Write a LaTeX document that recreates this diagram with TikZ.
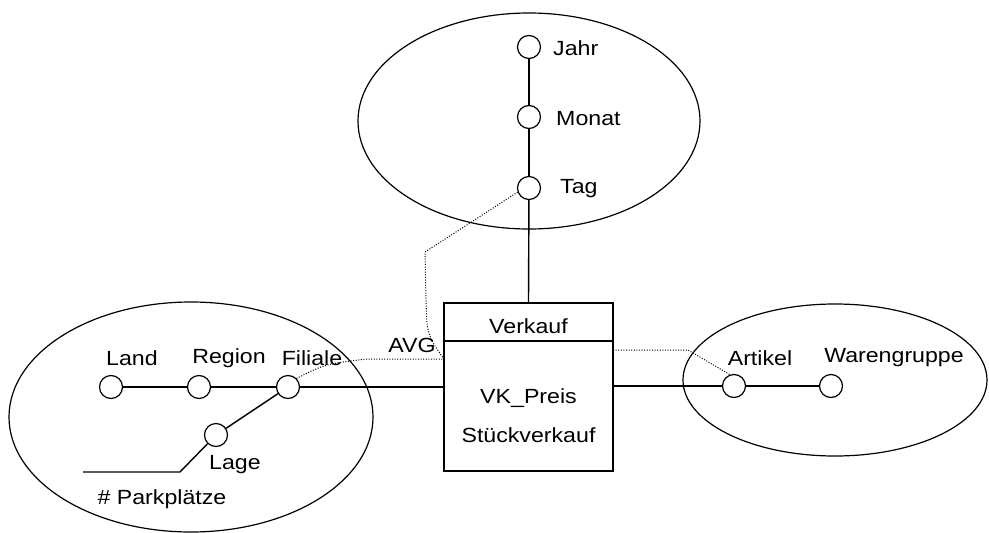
\documentclass[tikz,border=0pt]{standalone}
\usepackage{fontspec}
\setmainfont{Liberation Sans}[FakeStretch=1.13]
\begin{document}
\begin{tikzpicture}[x=1pt,y=-1pt,
  level/.style={circle,draw,line width=1.2pt,minimum size=23pt,inner sep=0pt},
  lbl/.style={inner sep=0pt,font=\fontsize{20.5}{23}\selectfont},
  link/.style={line width=1.4pt},
  agg/.style={line width=1pt,dash pattern=on 1pt off 1.6pt},
  hull/.style={line width=1.2pt}]
\useasboundingbox (0,0) rectangle (989,533);

% dimension hulls
\draw[hull] (529,121) ellipse [x radius=171, y radius=108];
\draw[hull] (191,417) ellipse [x radius=182, y radius=115];
\draw[hull] (835,380) ellipse [x radius=152, y radius=76];

% fact table
\node[draw,line width=1.4pt,minimum width=169pt,minimum height=168pt,inner sep=0pt] (box) at (528.5,387) {};
\coordinate (divL) at (444,341);
\coordinate (divR) at (613,341);
\draw[link] (divL) -- (divR);
\node[lbl] (verkauf) at (528.5,326) {Verkauf};
\node[lbl] (preis) at (528.5,398) {VK\_Preis};
\node[lbl] (stueck) at (528.5,435) {Stückverkauf};

% time dimension
\node[level] (jahr) at (529,47) {};
\node[level] (monat) at (529,117) {};
\node[level] (tag) at (529,188) {};
\node[lbl,anchor=west] (jahrL) at (553,48) {Jahr};
\node[lbl,anchor=west] (monatL) at (556,119) {Monat};
\node[lbl,anchor=west] (tagL) at (560,189) {Tag};
\draw[link] (jahr) -- (monat);
\draw[link] (monat) -- (tag);
\draw[link] (tag) -- (box.north);

% location dimension
\node[level] (land) at (111,387) {};
\node[level] (region) at (199,387) {};
\node[level] (filiale) at (288,387) {};
\node[level] (lage) at (216,435) {};
\node[lbl] (landL) at (132,358) {Land};
\node[lbl] (regionL) at (229,358) {Region};
\node[lbl] (filialeL) at (312,358) {Filiale};
\node[lbl] (lageL) at (235,465) {Lage};
\node[lbl] (parkL) at (162,499) {\# Parkplätze};
\coordinate (parkK) at (180,472);
\coordinate (parkE) at (83,472);
\draw[link] (land) -- (region);
\draw[link] (region) -- (filiale);
\draw[link] (filiale) -- (lage);
\draw[link] (lage) -- (parkK) -- (parkE);
\draw[link] (filiale) -- (box.west |- filiale);

% article dimension
\node[level] (artikel) at (734,386) {};
\node[level] (waren) at (831,386) {};
\node[lbl] (artikelL) at (760,358) {Artikel};
\node[lbl] (warenL) at (894,358) {Warengruppe};
\draw[link] (artikel) -- (waren);
\draw[link] (box.east |- artikel) -- (artikel);

% aggregation paths
\node[lbl] (avg) at (412,345) {AVG};
\coordinate (avgIn) at (444,359);
\coordinate (tagK1) at (425,252);
\coordinate (tagK2) at (426,300);
\coordinate (filK) at (367,359);
\coordinate (artOut) at (613,350);
\coordinate (artK) at (688,350);
\draw[agg] (tag.200) -- (tagK1) -- (tagK2) .. controls (427,335) .. (avgIn);
\draw[agg] (filiale.45) .. controls (325,364) .. (filK) -- (avgIn);
\draw[agg] (artOut) -- (artK) -- (artikel.110);
\end{tikzpicture}
\end{document}
